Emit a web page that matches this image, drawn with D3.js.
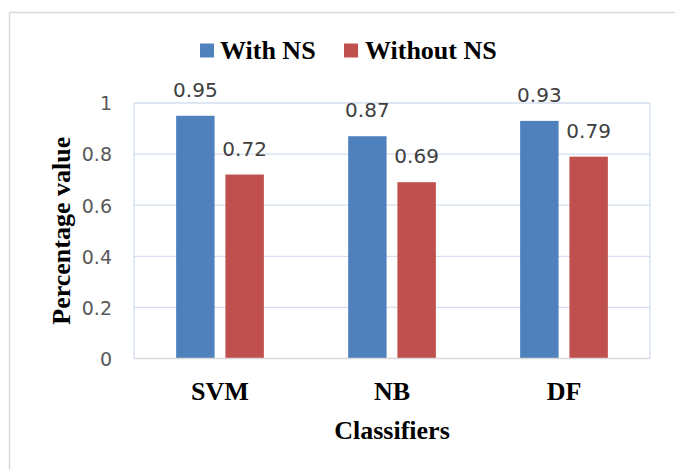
<!DOCTYPE html>
<html>
<head>
<meta charset="utf-8">
<script src="https://cdn.jsdelivr.net/npm/d3@7"></script>
<style>
  html, body { margin: 0; padding: 0; background: #fff; }
  svg { display: block; }
</style>
</head>
<body>
<svg id="chart" width="675" height="470"></svg>
<script>
const categories = ["SVM", "NB", "DF"];
const seriesNames = ["With NS", "Without NS"];
const withNS = [0.95, 0.87, 0.93];
const withoutNS = [0.72, 0.69, 0.79];
const yTicks = [0, 0.2, 0.4, 0.6, 0.8, 1];
const yTickLabels = ["0", "0.2", "0.4", "0.6", "0.8", "1"];
const colors = ["#4f81bd", "#c0504d"];
const xTitle = "Classifiers";
const yTitle = "Percentage value";

(function () {
const seriesValues = [withNS, withoutNS];
const rows = categories.map((c, i) => ({
  cat: c,
  vals: seriesNames.map((s, j) => ({ s, j, v: seriesValues[j][i] }))
}));

const svg = d3.select("#chart");
const pLeft = 134, pRight = 650, pTop = 103, pBottom = 358.5;

// outer frame (top and left only visible)
svg.append("line").attr("x1", 9.5).attr("x2", 675).attr("y1", 12.5).attr("y2", 12.5)
  .attr("stroke", "#d9d9d9").attr("stroke-width", 1.5);
svg.append("line").attr("x1", 9.5).attr("x2", 9.5).attr("y1", 12.5).attr("y2", 470)
  .attr("stroke", "#d9d9d9").attr("stroke-width", 1.5);

const y = d3.scaleLinear().domain([0, 1]).range([pBottom, pTop]);
const x0 = d3.scaleBand().domain(categories).range([pLeft, pRight])
  .paddingInner(0.49).paddingOuter(0.245);
const x1 = d3.scaleBand().domain(seriesNames).range([0, x0.bandwidth()])
  .paddingInner(0.22);

// gridlines
svg.append("g").selectAll("line").data(yTicks.filter(t => t > 0)).join("line")
  .attr("x1", pLeft).attr("x2", pRight)
  .attr("y1", d => y(d)).attr("y2", d => y(d))
  .attr("stroke", "#d5dff0").attr("stroke-width", 1.3);
// plot frame sides
svg.append("line").attr("x1", pLeft).attr("x2", pLeft).attr("y1", pTop).attr("y2", pBottom)
  .attr("stroke", "#d5dff0").attr("stroke-width", 1.3);
svg.append("line").attr("x1", pRight).attr("x2", pRight).attr("y1", pTop).attr("y2", pBottom)
  .attr("stroke", "#d5dff0").attr("stroke-width", 1.3);

// bars
const groups = svg.append("g").selectAll("g").data(rows).join("g")
  .attr("transform", d => `translate(${x0(d.cat)},0)`);
groups.selectAll("rect").data(d => d.vals).join("rect")
  .attr("x", d => x1(d.s))
  .attr("width", x1.bandwidth())
  .attr("y", d => y(d.v))
  .attr("height", d => y(0) - y(d.v))
  .attr("fill", d => colors[d.j]);
groups.selectAll("text").data(d => d.vals).join("text")
  .attr("x", d => x1(d.s) + x1.bandwidth() / 2)
  .attr("y", d => y(d.v) - 19)
  .attr("text-anchor", "middle")
  .attr("font-family", "DejaVu Sans, sans-serif")
  .attr("font-size", 20)
  .attr("fill", "#404040")
  .text(d => d.v.toFixed(2));

// x axis line
svg.append("line").attr("x1", pLeft).attr("x2", pRight).attr("y1", pBottom).attr("y2", pBottom)
  .attr("stroke", "#d9d9d9").attr("stroke-width", 1.5);

// y axis labels
const yAxis = d3.axisLeft(y).tickValues(yTicks)
  .tickFormat((d, i) => yTickLabels[i]).tickSize(0).tickPadding(22);
const gy = svg.append("g").attr("transform", `translate(${pLeft},0)`).call(yAxis);
gy.select(".domain").remove();
gy.selectAll("text")
  .attr("font-family", "DejaVu Sans, sans-serif")
  .attr("font-size", 19)
  .attr("fill", "#595959")
  .attr("dy", "0.36em");

// x axis labels
const xAxis = d3.axisBottom(x0).tickSize(0).tickPadding(0);
const gx = svg.append("g").attr("transform", `translate(0,${pBottom})`).call(xAxis);
gx.select(".domain").remove();
gx.selectAll("text")
  .attr("dy", null)
  .attr("y", 41)
  .attr("font-family", "Liberation Serif, Times New Roman, serif")
  .attr("font-weight", "bold")
  .attr("font-size", 26)
  .attr("fill", "#000");

// axis titles
svg.append("text").attr("x", (pLeft + pRight) / 2).attr("y", 438.5)
  .attr("text-anchor", "middle")
  .attr("font-family", "Liberation Serif, Times New Roman, serif")
  .attr("font-weight", "bold").attr("font-size", 26).attr("fill", "#000")
  .text(xTitle);
svg.append("text")
  .attr("transform", `translate(69.5,${(pTop + pBottom) / 2}) rotate(-90)`)
  .attr("text-anchor", "middle")
  .attr("font-family", "Liberation Serif, Times New Roman, serif")
  .attr("font-weight", "bold").attr("font-size", 26).attr("fill", "#000")
  .text(yTitle);

// legend
const legendItems = [
  { name: seriesNames[0], color: colors[0], sx: 200, tx: 220 },
  { name: seriesNames[1], color: colors[1], sx: 344, tx: 365 }
];
const lg = svg.append("g");
lg.selectAll("rect").data(legendItems).join("rect")
  .attr("x", d => d.sx).attr("y", 43.5).attr("width", 14).attr("height", 14)
  .attr("fill", d => d.color);
lg.selectAll("text").data(legendItems).join("text")
  .attr("x", d => d.tx).attr("y", 59.3)
  .attr("font-family", "Liberation Serif, Times New Roman, serif")
  .attr("font-weight", "bold").attr("font-size", 26).attr("fill", "#000")
  .text(d => d.name);
})();
</script>
</body>
</html>
